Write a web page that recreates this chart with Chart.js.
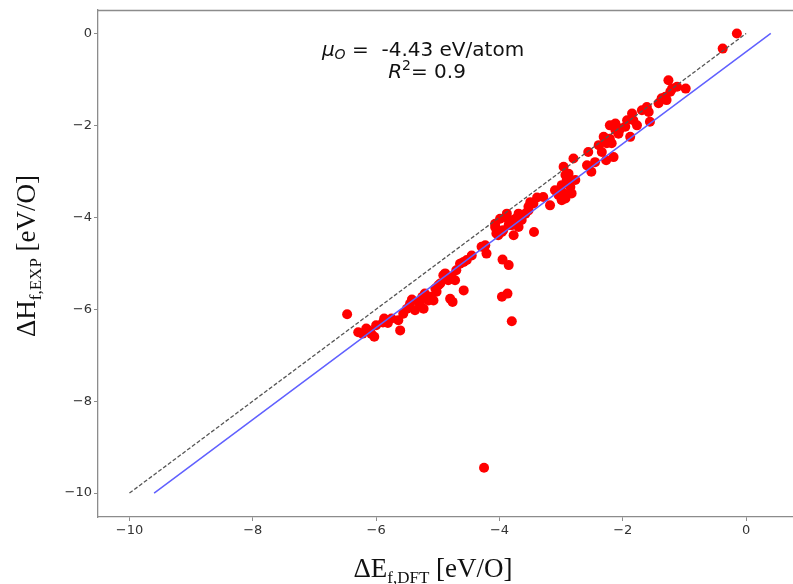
<!DOCTYPE html>
<html>
<head>
<meta charset="utf-8">
<script src="https://cdn.jsdelivr.net/npm/chart.js@4.4.0/dist/chart.umd.min.js"></script>
<style>
  html, body { margin: 0; padding: 0; background: #fff; }
</style>
</head>
<body>
<canvas id="chart" width="793" height="584"></canvas>
<script>
// DFT formation energy per O (x) vs experimental enthalpy per O (y)
const dftEnergy = [
  -6.47, -6.29, -6.22, -6.16, -6.12, -6.08, -6.03, -6.00, -5.89, -5.87,
  -5.81, -5.75, -5.64, -5.61, -5.56, -5.50, -5.45, -5.42, -5.37, -5.31,
  -5.29, -5.25, -5.23, -5.21, -5.15, -5.12, -5.07, -5.04, -5.02, -4.99,
  -4.96, -4.91, -4.88, -4.83, -4.78, -4.72, -4.70, -4.64, -4.58, -4.53,
  -4.45, -4.80, -4.76, -4.58, -4.29, -4.23, -4.21, -4.25, -3.95, -3.85,
  -3.96, -3.87, -3.80, -4.07, -4.07, -4.05, -4.05, -4.02, -3.96, -3.94,
  -3.99, -3.88, -3.85, -3.85, -3.80, -3.77, -3.77, -3.74, -3.69, -3.69,
  -3.64, -3.58, -3.53, -3.53, -3.50, -3.45, -3.44, -3.39, -3.29, -3.18,
  -3.10, -3.07, -3.04, -2.99, -2.99, -2.96, -2.96, -2.93, -2.93, -2.91,
  -2.88, -2.85, -2.83, -2.80, -2.77, -2.58, -2.56, -2.51, -2.45, -2.39,
  -2.34, -2.31, -2.27, -2.26, -2.26, -2.21, -2.21, -2.18, -2.15, -2.15,
  -2.12, -2.12, -2.07, -2.04, -1.96, -1.93, -1.88, -1.85, -1.83, -1.77,
  -1.69, -1.61, -1.58, -1.56, -1.42, -1.37, -1.31, -1.29, -1.26, -1.23,
  -1.20, -1.12, -0.98, -0.38, -0.15
];
const expEnthalpy = [
  -6.11, -6.50, -6.53, -6.42, -6.46, -6.53, -6.60, -6.35, -6.29, -6.20,
  -6.30, -6.20, -6.24, -6.46, -6.10, -5.99, -5.88, -5.79, -6.02, -5.84,
  -5.88, -5.73, -5.99, -5.66, -5.81, -5.73, -5.81, -5.55, -5.62, -5.48,
  -5.44, -5.26, -5.22, -5.37, -5.30, -5.37, -5.15, -5.01, -4.97, -4.93,
  -4.83, -5.77, -5.84, -5.59, -4.64, -4.61, -4.79, -9.45, -4.92, -5.04,
  -5.73, -5.66, -6.26, -4.14, -4.21, -4.25, -4.35, -4.39, -4.32, -4.28,
  -4.03, -3.92, -4.06, -4.17, -4.17, -4.39, -4.06, -4.03, -3.92, -4.21,
  -4.06, -3.92, -3.85, -3.77, -3.67, -3.70, -4.32, -3.57, -3.56, -3.74,
  -3.41, -3.45, -3.52, -3.30, -3.63, -3.48, -2.90, -3.08, -3.59, -3.19,
  -3.05, -3.34, -3.48, -2.72, -3.19, -2.87, -2.58, -3.01, -2.80, -2.43,
  -2.58, -2.25, -2.76, -2.32, -2.39, -2.29, -2.00, -2.39, -2.69, -2.00,
  -1.96, -2.10, -2.18, -2.07, -2.03, -1.89, -2.25, -1.74, -1.89, -2.00,
  -1.67, -1.60, -1.71, -1.92, -1.52, -1.41, -1.38, -1.45, -1.02, -1.27,
  -1.20, -1.16, -1.20, -0.33, 0.00
];

// y = x reference and the fitted shift line
const parityX = [-10, 0];
const parityY = [-10, 0];
const fitX = [-9.6, 0.4];
const fitY = [-10, 0];

const xTickValues = [-10, -8, -6, -4, -2, 0];
const yTickValues = [-10, -8, -6, -4, -2, 0];

const toPoints = (xs, ys) => xs.map((x, i) => ({ x: x, y: ys[i] }));
const minusLabel = (v) => (v < 0 ? '\u2212' + Math.abs(v) : String(v));

const SERIF = '"Liberation Serif", "DejaVu Serif", serif';
const SANS = '"DejaVu Sans", sans-serif';

// draw a row of text pieces with their own font and vertical shift
const drawRuns = (ctx, runs, x, y) => {
  let total = 0;
  runs.forEach((r) => {
    ctx.font = r.font;
    r.w = ctx.measureText(r.text).width;
    total += r.w;
  });
  let cx = x - total / 2;
  runs.forEach((r) => {
    ctx.font = r.font;
    ctx.fillText(r.text, cx, y + (r.dy || 0));
    cx += r.w;
  });
};

const labelsPlugin = {
  id: 'labels',
  afterDraw: (chart) => {
    const ctx = chart.ctx;
    const area = chart.chartArea;
    ctx.save();
    // top spine
    ctx.strokeStyle = '#8c8c8c';
    ctx.lineWidth = 1.3;
    ctx.beginPath();
    ctx.moveTo(area.left, area.top + 0.5);
    ctx.lineTo(area.right, area.top + 0.5);
    ctx.stroke();

    ctx.fillStyle = '#111';
    ctx.textBaseline = 'alphabetic';
    // annotation
    drawRuns(ctx, [
      { text: '\u03bc', font: `italic 20px ${SANS}` },
      { text: 'O', font: `italic 14px ${SANS}`, dy: 3 },
      { text: ' =  -4.43 eV/atom', font: `20px ${SANS}` },
    ], 423, 56);
    drawRuns(ctx, [
      { text: 'R', font: `italic 20px ${SANS}` },
      { text: '2', font: `14px ${SANS}`, dy: -8 },
      { text: '= 0.9', font: `20px ${SANS}` },
    ], 427, 78);

    // x axis title
    drawRuns(ctx, [
      { text: '\u0394E', font: `27px ${SERIF}` },
      { text: 'f,DFT', font: `17px ${SERIF}`, dy: 6 },
      { text: ' [eV/O]', font: `27px ${SERIF}` },
    ], 433, 577);

    // y axis title
    ctx.translate(35, 256);
    ctx.rotate(-Math.PI / 2);
    drawRuns(ctx, [
      { text: '\u0394H', font: `27px ${SERIF}` },
      { text: 'f,EXP', font: `17px ${SERIF}`, dy: 6 },
      { text: ' [eV/O]', font: `27px ${SERIF}` },
    ], 0, 0);
    ctx.restore();
  },
};

const axisStyle = (ticks, fitSize) => ({
  type: 'linear',
  afterBuildTicks: (scale) => {
    scale.ticks = ticks.map((v) => ({ value: v }));
  },
  afterFit: fitSize,
  grid: {
    display: true,
    drawOnChartArea: false,
    drawTicks: true,
    tickLength: 4,
    color: '#8c8c8c',
  },
  border: { display: true, color: '#8c8c8c', width: 1.3 },
  ticks: {
    color: '#333',
    padding: 2,
    font: { family: 'DejaVu Sans', size: 13 },
    callback: (v) => minusLabel(v),
  },
});

const ctx = document.getElementById('chart').getContext('2d');
new Chart(ctx, {
  type: 'scatter',
  data: {
    datasets: [
      {
        label: 'parity',
        type: 'line',
        data: toPoints(parityX, parityY),
        borderColor: '#555',
        borderWidth: 1.3,
        borderDash: [4, 2],
        pointRadius: 0,
        fill: false,
        order: 0,
      },
      {
        label: 'fit',
        type: 'line',
        data: toPoints(fitX, fitY),
        borderColor: '#6060ff',
        borderWidth: 1.5,
        pointRadius: 0,
        fill: false,
        order: 0,
      },
      {
        label: 'oxides',
        data: toPoints(dftEnergy, expEnthalpy),
        backgroundColor: '#ff0000',
        borderColor: '#ff0000',
        borderWidth: 0,
        pointRadius: 5,
        order: 1,
      },
    ],
  },
  options: {
    responsive: false,
    animation: false,
    layout: { autoPadding: false, padding: { top: 10, left: 0, right: 0, bottom: 0 } },
    plugins: {
      legend: { display: false },
      tooltip: { enabled: false },
    },
    scales: {
      x: {
        ...axisStyle(xTickValues, (scale) => { scale.height = 67; }),
        min: -10.51,
        max: 0.76,
      },
      y: {
        ...axisStyle(yTickValues, (scale) => { scale.width = 98; }),
        min: -10.52,
        max: 0.51,
      },
    },
  },
  plugins: [labelsPlugin],
});
</script>
</body>
</html>
